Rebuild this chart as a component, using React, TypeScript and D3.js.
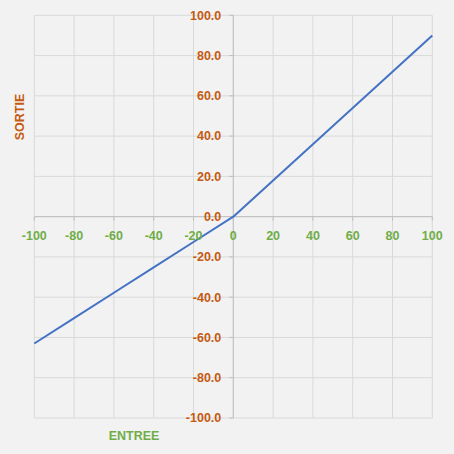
import React from "react";
import * as d3 from "d3";

const xValues = [-100, -80, -60, -40, -20, 0, 20, 40, 60, 80, 100];
const yValues = [-63, -50.4, -37.8, -25.2, -12.6, 0, 18, 36, 54, 72, 90];
const xTicks = [-100, -80, -60, -40, -20, 0, 20, 40, 60, 80, 100];
const yTicks = [-100, -80, -60, -40, -20, 0, 20, 40, 60, 80, 100];
const xTitle = "ENTREE";
const yTitle = "SORTIE";

const W = 454, H = 454;
const left = 34.3, right = 432.3, top = 15.3, bottom = 418;
const green = "#70AD47", orange = "#C55A11";
const font = "'Liberation Sans', Arial, sans-serif";
const fs = 12.5;

export default function App() {
  const x = d3.scaleLinear().domain([-100, 100]).range([left, right]);
  const y = d3.scaleLinear().domain([-100, 100]).range([bottom, top]);
  const pts = xValues.map((v, i) => [v, yValues[i]] as [number, number]);
  const line = d3.line<[number, number]>().x(d => x(d[0])).y(d => y(d[1]))(pts) || "";
  const x0 = x(0), y0 = y(0);
  return (
    <svg width={W} height={H} style={{ position: "absolute", left: 0, top: 0, background: "#F2F2F2" }}>
      <rect x={0} y={0} width={W} height={H} fill="#F2F2F2" />
      {xTicks.map(t => (
        <line key={"gx" + t} x1={x(t)} x2={x(t)} y1={top} y2={bottom} stroke="#D9D9D9" strokeWidth={1} />
      ))}
      {yTicks.map(t => (
        <line key={"gy" + t} x1={left} x2={right} y1={y(t)} y2={y(t)} stroke="#D9D9D9" strokeWidth={1} />
      ))}
      <line x1={left} x2={right} y1={y0} y2={y0} stroke="#BFBFBF" strokeWidth={1} />
      <line x1={x0} x2={x0} y1={top} y2={bottom} stroke="#BFBFBF" strokeWidth={1} />
      {yTicks.map(t => (
        <line key={"ty" + t} x1={x0 - 4} x2={x0} y1={y(t)} y2={y(t)} stroke="#BFBFBF" strokeWidth={1} />
      ))}
      {xTicks.map(t => (
        <line key={"tx" + t} x1={x(t)} x2={x(t)} y1={y0} y2={y0 + 4} stroke="#BFBFBF" strokeWidth={1} />
      ))}
      <path d={line} fill="none" stroke="#4472C4" strokeWidth={2} strokeLinejoin="round" />
      {yTicks.map(t => (
        <text key={"ly" + t} x={x0 - 12} y={y(t)} dy="0.35em" textAnchor="end" fill={orange}
          fontFamily={font} fontWeight="bold" fontSize={fs}>{t.toFixed(1)}</text>
      ))}
      {xTicks.map(t => (
        <text key={"lx" + t} x={x(t)} y={y0 + 19} dy="0.35em" textAnchor="middle" fill={green}
          fontFamily={font} fontWeight="bold" fontSize={fs}>{t}</text>
      ))}
      <text x={134} y={436} dy="0.35em" textAnchor="middle" fill={green} fontFamily={font} fontWeight="bold" fontSize={fs}>{xTitle}</text>
      <text transform="translate(19.5,117) rotate(-90)" dy="0.35em" textAnchor="middle" fill={orange} fontFamily={font} fontWeight="bold" fontSize={fs}>{yTitle}</text>
    </svg>
  );
}
